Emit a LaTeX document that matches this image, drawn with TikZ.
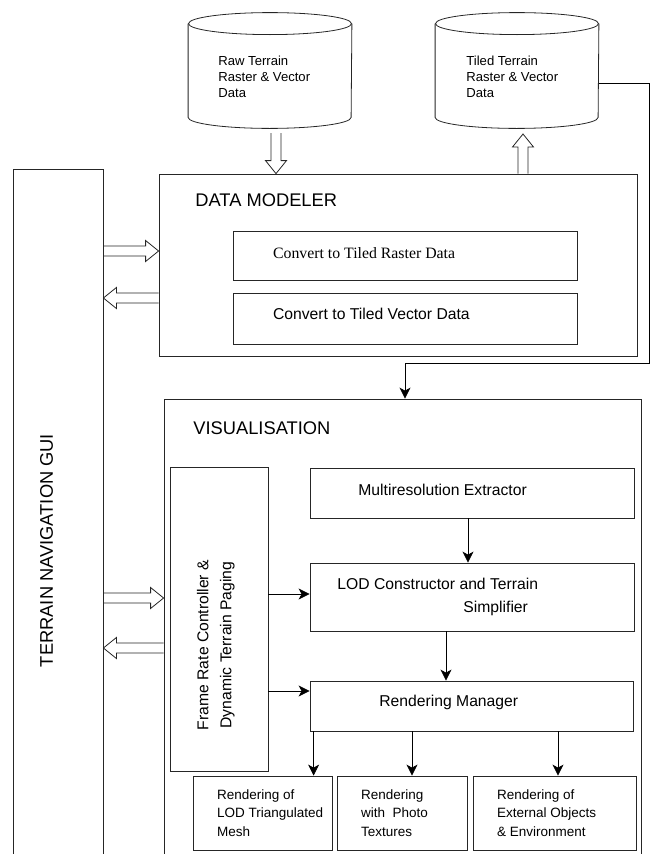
\documentclass[tikz,border=0pt]{standalone}
\usepackage{fontspec}
\setmainfont{Liberation Sans}
\newfontfamily\timesfont{Liberation Serif}
\usetikzlibrary{arrows.meta,calc,positioning}

\tikzset{
  box/.style={draw=black!85, line width=0.8pt, inner sep=0pt},
  store/.style={minimum width=163pt, minimum height=104pt, inner sep=0pt},
  txt/.style={inner sep=0pt, anchor=west, align=left, font=\fontsize{15.7}{24}\selectfont},
  heading/.style={txt, font=\fontsize{18.3}{22}\selectfont},
  smalltxt/.style={txt, font=\fontsize{13.5}{18.3}\selectfont},
  dbtxt/.style={txt, font=\fontsize{13.1}{16}\selectfont},
  % hollow block arrow between two points
  fatarrow/.style={draw=black!85, line width=0.8pt, to path={
    ($(\tikztotarget)!13pt!(\tikztostart)$) coordinate (fatbase)
    ($(\tikztostart)!5pt!90:(\tikztotarget)$)
    -- ($(fatbase)!5pt!90:(\tikztotarget)$)
    -- ($(fatbase)!10.5pt!90:(\tikztotarget)$)
    -- (\tikztotarget)
    -- ($(fatbase)!10.5pt!-90:(\tikztotarget)$)
    -- ($(fatbase)!5pt!-90:(\tikztotarget)$)
    -- ($(\tikztostart)!5pt!-90:(\tikztotarget)$)}}
}

\begin{document}
\begin{tikzpicture}[x=1pt, y=-1pt, line width=0.8pt, >={Stealth[length=11pt,width=11pt,inset=3pt]}]
\useasboundingbox (0,0) rectangle (650,854);
\clip (0,0) rectangle (650,854);

% data stores
\node (rawdb) at (270,76) [store] {};
\node (tiledb) at (517,76) [store] {};
\foreach \db in {rawdb,tiledb} {
  \draw[black!85] (\db.north) ellipse [x radius=81.5pt, y radius=11pt];
  \draw[black!85] (\db.north west) -- ([yshift=11pt]\db.south west)
    arc [start angle=180, end angle=360, x radius=81.5pt, y radius=11pt] -- (\db.north east);
}
\node (rawtxt) at (218,77) [dbtxt] {Raw Terrain\\Raster \& Vector\\Data};
\node (tiletxt) at (466,77) [dbtxt] {Tiled Terrain\\Raster \& Vector\\Data};

% gui column
\node (gui) at (58,519.5) [box, minimum width=90pt, minimum height=701pt] {};
\node (guitxt) at (46.7,550.5) [heading, anchor=center, rotate=90] {TERRAIN NAVIGATION GUI};

% data modeler
\node (dm) at (398,265) [box, minimum width=478pt, minimum height=182pt] {};
\node (raster) at (405,255.5) [box, minimum width=344pt, minimum height=49pt] {};
\node (vector) at (405,318.5) [box, minimum width=344pt, minimum height=51pt] {};
\node (dmtitle) at (195,200) [heading] {DATA MODELER};
\node (rastertxt) at (272.7,253) [txt, font=\timesfont\fontsize{15.8}{19}\selectfont] {Convert to Tiled Raster Data};
\node (vectortxt) at (272.7,314) [txt] {Convert to Tiled Vector Data};

% visualisation
\node (vis) at (402.5,634.5) [box, minimum width=477pt, minimum height=471pt] {};
\node (vistitle) at (193,428) [heading] {VISUALISATION};
\node (frc) at (219,619) [box, minimum width=98pt, minimum height=304pt] {};
\node (frctxt1) at (202.7,645) [txt, anchor=center, rotate=90] {Frame Rate Controller \&};
\node (frctxt2) at (227.3,645) [txt, anchor=center, rotate=90] {Dynamic Terrain Paging};

\node (mre) at (472,493) [box, minimum width=324pt, minimum height=50pt] {};
\node (mretxt) at (358,490) [txt] {Multiresolution Extractor};
\node (lod) at (472,597) [box, minimum width=324pt, minimum height=68pt] {};
\node (lodtxt1) at (337,584) [txt] {LOD Constructor and Terrain};
\node (lodtxt2) at (463,608) [txt] {Simplifier};
\node (rman) at (471.5,706) [box, minimum width=323pt, minimum height=50pt] {};
\node (rmantxt) at (379,702) [txt] {Rendering Manager};

\node (mesh) at (262.5,813) [box, minimum width=139pt, minimum height=74pt] {};
\node (photo) at (402,813) [box, minimum width=130pt, minimum height=74pt] {};
\node (ext) at (554.5,813) [box, minimum width=163pt, minimum height=74pt] {};
\node (meshtxt) at (216.7,813) [smalltxt] {Rendering of\\LOD Triangulated\\Mesh};
\node (phototxt) at (360.7,813) [smalltxt] {Rendering\\with\ \ Photo\\Textures};
\node (exttxt) at (496.7,813) [smalltxt] {Rendering of\\External Objects\\\& Environment};

% block arrows
\coordinate (rawout) at (276,133);
\coordinate (tilein) at (523,134);
\coordinate (dmrowin) at (0,251);
\coordinate (dmrowout) at (0,298);
\coordinate (visrowin) at (0,598);
\coordinate (visrowout) at (0,648);
\draw[fatarrow] (rawout) to (rawout |- dm.north);
\draw[fatarrow] (tilein |- dm.north) to (tilein);
\draw[fatarrow] (gui.east |- dmrowin) to (dm.west |- dmrowin);
\draw[fatarrow] (dm.west |- dmrowout) to (gui.east |- dmrowout);
\draw[fatarrow] (gui.east |- visrowin) to (vis.west |- visrowin);
\draw[fatarrow] (vis.west |- visrowout) to (gui.east |- visrowout);

% flow arrows
\coordinate (loopcorner) at (649,363);
\draw[->] ([yshift=-7pt]tiledb.east) -| (loopcorner) -| ([xshift=2.5pt]vis.north);
\draw[->] ([xshift=-4pt]mre.south) -- ([xshift=-4pt]lod.north);
\draw[->] ([xshift=-26pt]lod.south) -- ([xshift=-26pt]lod.south |- rman.north);
\draw[->] ([yshift=3pt]lod.west -| frc.east) -- ([yshift=3pt]lod.west);
\draw[->] ([yshift=15pt]rman.west -| frc.east) -- ([yshift=15pt]rman.west);
\draw[->] ([xshift=4pt]rman.south west) -- ([xshift=4pt]rman.south west |- mesh.north);
\draw[->] ([xshift=10pt]photo.north |- rman.south) -- ([xshift=10pt]photo.north);
\draw[->] ([xshift=3.5pt]ext.north |- rman.south) -- ([xshift=3.5pt]ext.north);
\end{tikzpicture}
\end{document}
